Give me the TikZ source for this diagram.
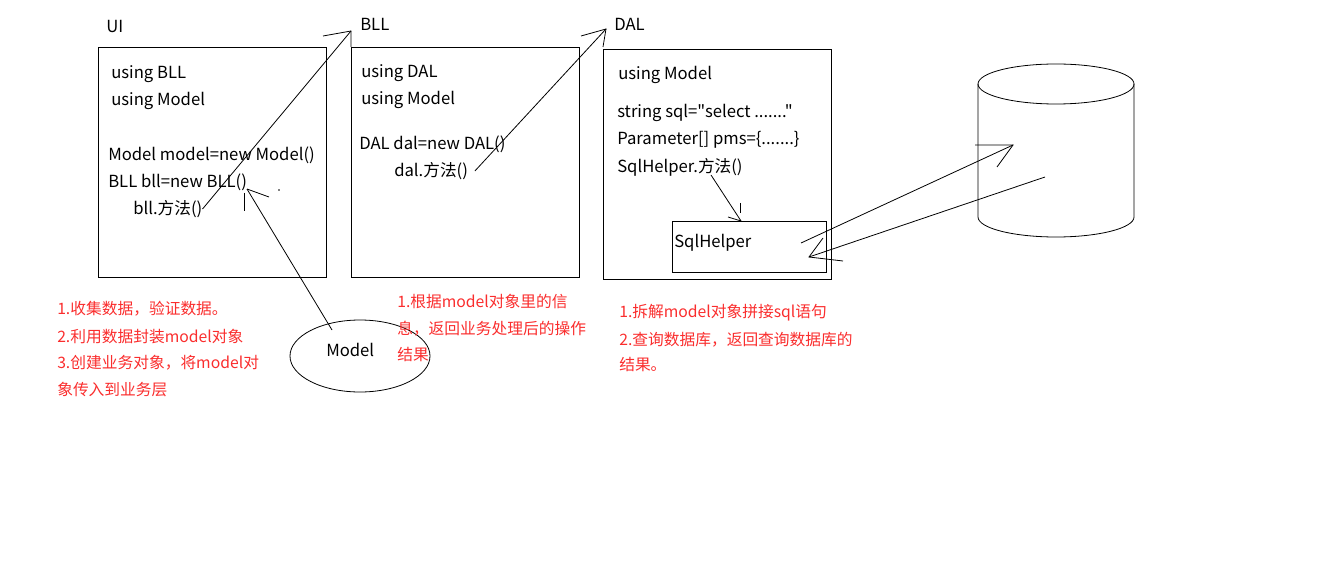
\documentclass[tikz,border=0pt]{standalone}
\usepackage{fontspec}
\setmainfont{Noto Sans CJK SC}[Ligatures = TeXOff]
\usetikzlibrary{shapes.geometric}

\definecolor{notered}{RGB}{250,45,45}

\tikzstyle{layerbox} = [rectangle, draw = black, line width = 0.6pt, minimum width = 171pt, minimum height = 172.5pt]
\tikzstyle{codeline} = [anchor = west, inner sep = 0pt, font = \fontsize{12.5}{14}\selectfont]
\tikzstyle{noteline} = [anchor = west, inner sep = 0pt, text = notered, font = \fontsize{11.8}{14}\selectfont]
\tikzstyle{stroke} = [draw = black, line width = 0.6pt]

\begin{document}
\begin{tikzpicture}[x = 0.75pt, y = -0.75pt]
			\useasboundingbox (0,0) rectangle (1341,570);
			% layers
			\node[layerbox] (ui) at (212,162) {};
			\node[layerbox] (bll) at (465,162) {};
			\node[layerbox] (dal) at (717,164) {};
			\node[layerbox, minimum width = 115.5pt, minimum height = 38.25pt] (helper) at (749,246.5) {};
			\node[ellipse, stroke, inner sep = 0pt, minimum width = 105pt, minimum height = 54pt] (model) at (360,356) {};
			\node[codeline] (modelT) at (326,350) {Model};
			\node[codeline] (helperT) at (674,243) {SqlHelper};
			% titles
			\node[codeline] (uiT) at (106,27) {UI};
			\node[codeline] (bllT) at (360,24) {BLL};
			\node[codeline] (dalT) at (614,24) {DAL};
			% UI code
			\node[codeline] (u1) at (111,74) {using BLL};
			\node[codeline] (u2) at (111,101) {using Model};
			\node[codeline] (u3) at (108,155) {Model model=new Model()};
			\node[codeline] (u4) at (108,182) {BLL bll=new BLL()};
			\node[codeline] (u5) at (133,209) {bll.方法()};
			% BLL code
			\node[codeline] (b1) at (361,73) {using DAL};
			\node[codeline] (b2) at (361,100) {using Model};
			\node[codeline] (b3) at (359,144) {DAL dal=new DAL()};
			\node[codeline] (b4) at (394,171) {dal.方法()};
			% DAL code
			\node[codeline] (d1) at (618,75) {using Model};
			\node[codeline] (d2) at (617,113) {string sql="select ......."};
			\node[codeline] (d3) at (617,140) {Parameter[] pms=\{.......\}};
			\node[codeline] (d4) at (617,167) {SqlHelper.方法()};
			% notes
			\node[noteline] (n1) at (57,309) {1.收集数据，验证数据。};
			\node[noteline] (n2) at (57,337) {2.利用数据封装model对象};
			\node[noteline] (n3) at (57,363) {3.创建业务对象，将model对};
			\node[noteline] (n4) at (57,390) {象传入到业务层};
			\node[noteline] (m1) at (397,302) {1.根据model对象里的信};
			\node[noteline] (m2) at (397,329) {息，返回业务处理后的操作};
			\node[noteline] (m3) at (397,355) {结果};
			\node[noteline] (r1) at (619,313) {1.拆解model对象拼接sql语句};
			\node[noteline] (r2) at (619,340) {2.查询数据库，返回查询数据库的};
			\node[noteline] (r3) at (619,365) {结果。};
			% database
			\draw[stroke] (1056,84) ellipse [x radius = 58.5pt, y radius = 15pt];
			\draw[stroke] (978,84) -- (978,217) arc [start angle = 180, end angle = 360, x radius = 58.5pt, y radius = 15pt] -- (1134,84);
			% arrow ends
			\coordinate (bllTip) at (351,31);
			\coordinate (dalTip) at (606,29);
			\coordinate (modelTip) at (247,189);
			\coordinate (modelFoot) at (332,330);
			\coordinate (callFoot) at (711,175);
			\coordinate (helperTip) at (741,221);
			\coordinate (helperOut) at (801,243);
			\coordinate (helperIn) at (809,257);
			\coordinate (dbIn) at (1013,145);
			\coordinate (dbOut) at (1045,177);
			\path[stroke]
			(u5.east) edge (bllTip)
			([xshift = 5pt]b4.east) edge (dalTip)
			(modelFoot) edge (modelTip)
			(callFoot) edge (helperTip)
			(helperOut) edge (dbIn)
			(dbOut) edge (helperIn);
			% rough arrow heads
			\draw[stroke] (323,36) -- (bllTip) -- (351,47);
			\draw[stroke] (581,36) -- (dalTip) -- (603,47);
			\draw[stroke] (269,197) -- (modelTip);
			\draw[stroke] (244,193) -- (244,211);
			\draw[stroke] (728,217) -- (helperTip);
			\draw[stroke] (740,203) -- (740,213);
			\draw[stroke] (975,145) -- (dbIn) -- (997,167);
			\draw[stroke] (823,238) -- (helperIn) -- (843,261);
			\fill (279,190) circle [radius = 0.6pt];
		\end{tikzpicture}
\end{document}
